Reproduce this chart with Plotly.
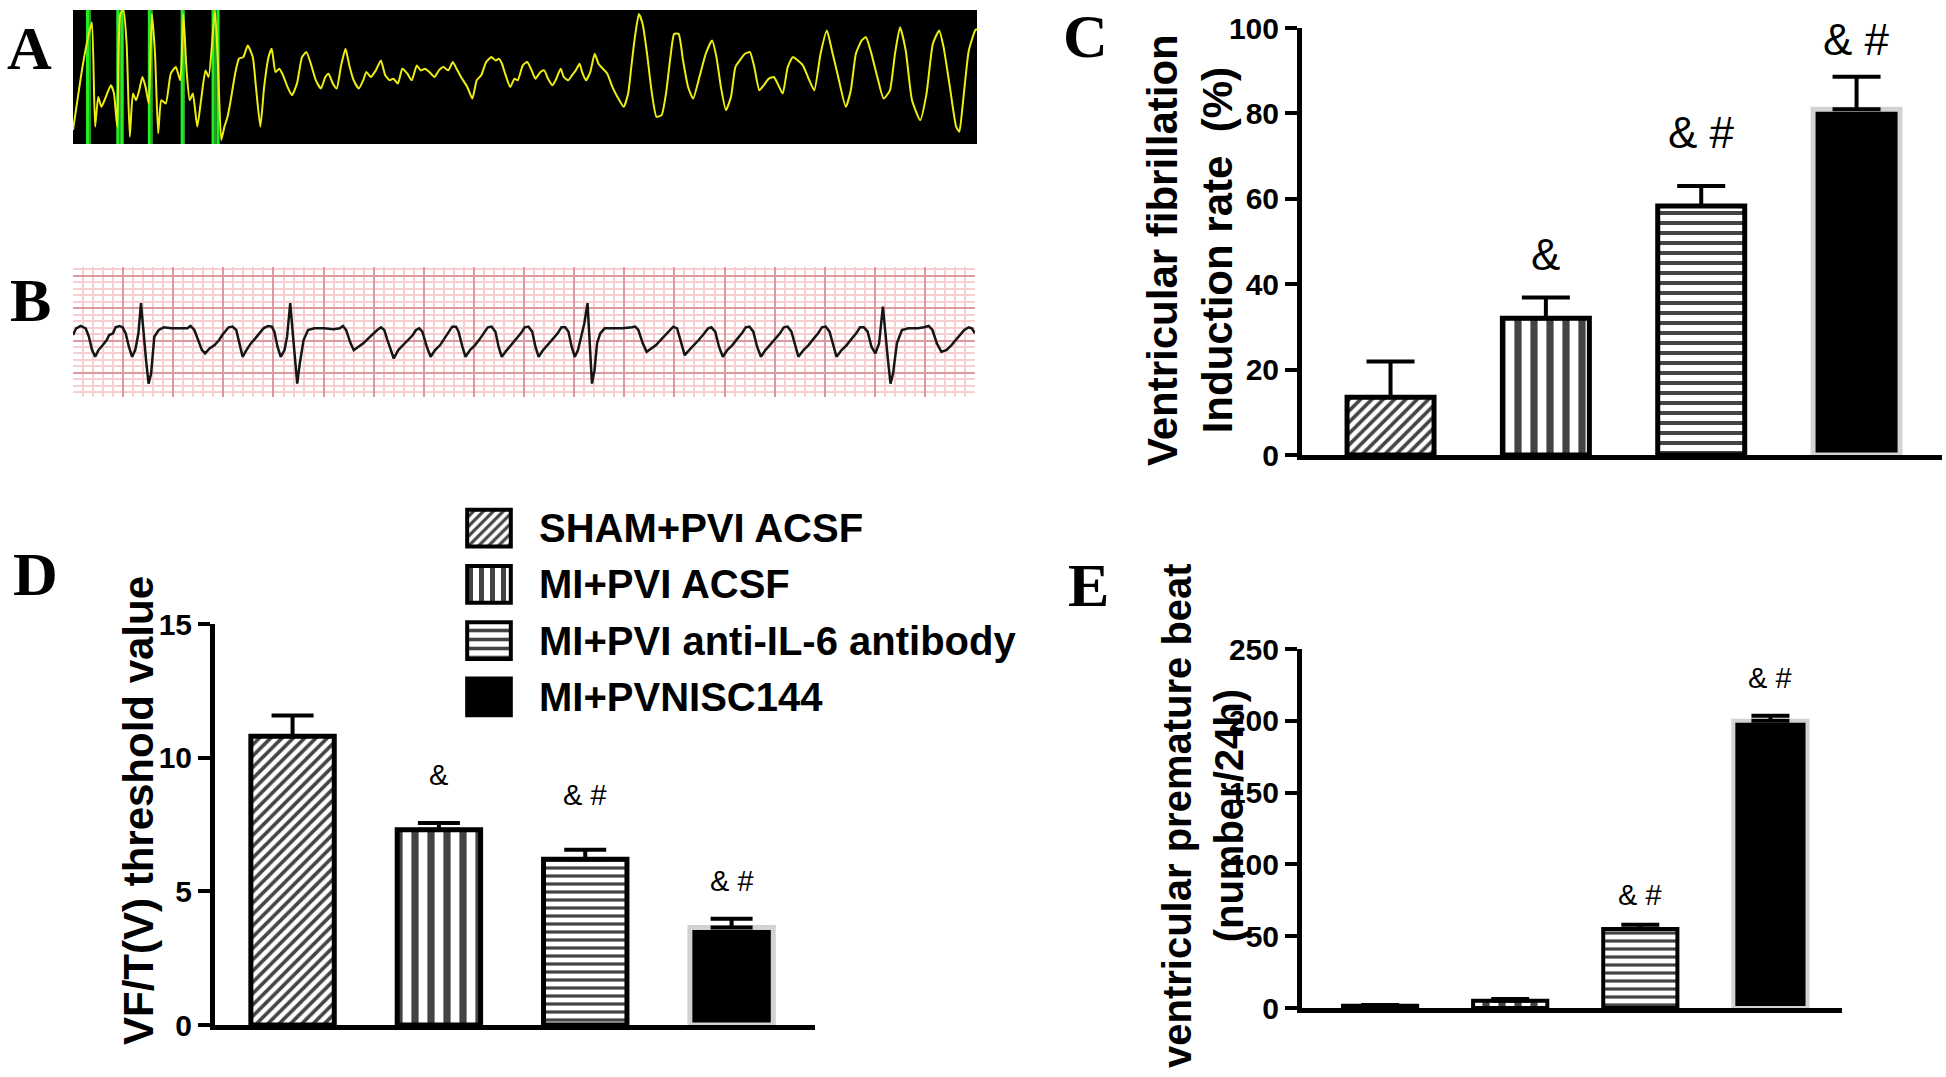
import plotly.graph_objects as go

W, H = 1946, 1077

# ---------------- data ----------------
groups = ["SHAM+PVI ACSF", "MI+PVI ACSF", "MI+PVI anti-IL-6 antibody", "MI+PVNISC144"]
group_patterns = ["/", "|", "-", ""]

# Panel C: ventricular fibrillation induction rate (%)
vf_rate_mean = [13.5, 32.0, 58.3, 81.0]
vf_rate_sem = [8.4, 4.9, 4.7, 7.6]
vf_rate_marks = ["", "&", "& #", "& #"]
vf_rate_mark_y = [None, 47.0, 75.5, 97.4]

# Panel D: VF/T (V) threshold value
vft_mean = [10.8, 7.3, 6.2, 3.65]
vft_sem = [0.78, 0.26, 0.36, 0.32]
vft_marks = ["", "&", "& #", "& #"]
vft_mark_y = [None, 9.36, 8.62, 5.4]

# Panel E: ventricular premature beat (number/24h)
vpb_mean = [1.5, 5.0, 55.0, 200.0]
vpb_sem = [0.6, 1.2, 3.0, 3.5]
vpb_marks = ["", "", "& #", "& #"]
vpb_mark_y = [None, None, 79.0, 230.0]

# Panel A: VF recording (sample index, screen level)
trace_a_t = [115,130,140,145,150,155,160,165,175,180,
             185,190,195,200,205,210,215,220,225,230,
             235,240,245,250,255,262,270,278,285,290,
             295,300,305,312,318,325,330,340,345,350,
             355,360,365,372,378,385,392,400,405,412,
             418,425,430,436,442,448,455,462,470,478,
             485,492,500,508,515,520,527,533,540,547,
             553,560,568,575,580,587,595,603,610,617,
             623,630,637,645,652,660,666,673,680,688,
             695,702,710,717,723,730,740,748,755,762,
             770,778,785,790,795,800,808,815,820,828,
             835,842,848,856,862,868,875,880,888,893,
             900,906,912,918,922,928,935,942,948,955,
             962,970,978,988,995,1000,1005,1012,1018,1025,
             1032,1040,1048,1055,1062,1068,1075,1082,1090,1098,
             1108,1118,1128,1135,1142,1150,1158,1165,1172,1180,
             1188,1195,1203,1210,1218,1226,1232,1240,1248,1256,
             1264,1272,1280,1290,1300,1310,1318,1328,1340,1348,
             1356,1365,1372,1380,1390,1400,1410,1418,1426,1435,
             1445,1458,1468,1478,1488,1495,1505,1515,1520,1525,
             1535,1545,1548]
trace_a_level = [390,200,100,65,380,290,320,300,255,280,
                 380,40,30,130,410,280,300,270,230,260,
                 310,40,160,400,300,310,220,200,240,40,
                 210,300,280,380,300,210,230,30,200,420,
                 380,350,300,220,175,170,135,170,260,380,
                 260,170,145,215,205,225,260,285,250,170,
                 155,190,240,265,230,220,250,265,195,145,
                 195,240,265,240,215,230,210,180,225,240,
                 235,250,205,220,240,195,210,205,215,230,
                 210,200,210,185,205,230,260,295,240,225,
                 185,170,180,175,190,220,260,235,240,195,
                 185,210,235,215,210,235,255,240,205,230,
                 240,225,210,190,215,240,215,160,190,205,
                 220,260,290,320,280,200,120,40,70,160,
                 270,350,345,280,170,100,100,180,260,295,
                 230,160,120,170,260,330,290,200,180,160,
                 155,200,270,255,235,230,250,280,200,170,
                 180,195,230,270,160,90,150,230,320,270,
                 160,120,110,155,230,295,270,160,80,150,
                 300,360,280,130,90,140,260,380,395,320,
                 150,90,85]
stim_marks_bright = [138, 186, 193, 236, 288, 337, 345]
stim_marks_dim = [142, 190, 240, 291, 341]

# Panel B: ECG strip (sample index, screen level)
trace_b_t = [115,120,127,135,140,145,150,155,162,168,
             172,178,182,188,193,198,203,208,213,218,
             222,226,230,234,238,243,250,258,270,285,
             295,300,306,312,318,323,330,338,345,350,
             355,360,366,372,377,382,388,395,402,408,
             415,422,428,432,437,442,448,452,457,461,
             465,468,472,478,485,495,510,525,535,540,
             545,552,557,565,572,580,588,594,600,605,
             610,615,620,627,635,642,650,655,660,665,
             672,678,685,693,700,706,712,718,722,728,
             733,740,748,755,762,768,774,780,785,790,
             798,805,812,820,826,832,838,843,848,855,
             862,870,878,884,890,895,900,905,910,915,
             920,925,928,932,936,940,945,952,965,980,
             995,1000,1005,1012,1018,1025,1033,1040,1048,1055,
             1060,1066,1072,1078,1085,1093,1100,1108,1115,1120,
             1126,1132,1138,1145,1153,1160,1168,1174,1180,1186,
             1192,1198,1205,1212,1220,1228,1234,1240,1246,1252,
             1257,1265,1273,1280,1288,1294,1300,1306,1312,1317,
             1325,1333,1340,1348,1354,1360,1366,1372,1378,1384,
             1390,1394,1398,1402,1406,1412,1420,1430,1445,1455,
             1462,1468,1475,1482,1490,1498,1505,1512,1518,1525,
             1530,1535]
trace_b_level = [255,235,228,235,260,300,320,300,285,270,
                 255,250,232,228,232,250,290,320,300,250,
                 160,250,330,400,370,260,240,232,235,235,
                 235,228,240,270,300,310,295,285,270,255,
                 245,232,230,240,280,320,300,280,265,250,
                 235,228,230,245,290,320,300,260,160,250,
                 330,400,340,270,240,235,235,238,235,228,
                 240,280,300,290,280,265,250,240,232,240,
                 270,300,325,300,285,270,255,240,235,245,
                 290,320,300,285,265,245,230,230,245,290,
                 320,300,285,268,250,232,230,245,290,320,
                 300,285,268,250,232,230,245,290,320,300,
                 285,268,250,232,232,245,290,320,300,260,
                 220,160,260,400,360,280,250,235,235,235,
                 232,230,240,280,305,295,285,270,255,240,
                 230,235,275,315,300,285,270,252,235,232,
                 245,290,320,300,285,268,250,232,230,245,
                 290,320,300,285,268,250,232,230,245,290,
                 320,300,285,268,250,232,230,245,290,320,
                 300,285,268,250,232,232,245,290,310,280,
                 170,260,330,400,370,280,240,235,235,232,
                 228,240,280,305,300,285,270,255,240,232,
                 235,250]

# ---------------- helpers ----------------
def fx(p):
    return p / W

def fy(p):
    return 1 - p / H

TICK_FONT = dict(family="Liberation Sans", size=30, color="black", weight="bold")
TITLE_FONT = dict(family="Liberation Sans", size=42, color="black", weight="bold")
LETTER_FONT = dict(family="Liberation Serif", size=62, color="black", weight="bold")

fig = go.Figure()
layout = dict(
    width=W, height=H, margin=dict(l=0, r=0, t=0, b=0, pad=0, autoexpand=False),
    paper_bgcolor="white", plot_bgcolor="white", showlegend=False,
    shapes=[], annotations=[],
)

def axname(k, letter):
    return f"{letter}axis" if k == 1 else f"{letter}axis{k}"

def axref(k, letter):
    return letter if k == 1 else f"{letter}{k}"

# ---------------- Panel A ----------------
a_xr = [115, 1548]
a_yr = [432, 28]
layout[axname(1, "x")] = dict(domain=[fx(73), fx(977)], range=a_xr, visible=False, fixedrange=True, anchor="y")
layout[axname(1, "y")] = dict(domain=[fy(144), fy(10)], range=a_yr, visible=False, fixedrange=True, anchor="x")
layout["shapes"].append(dict(type="rect", xref="x domain", yref="y domain", x0=0, x1=1, y0=0, y1=1,
                             fillcolor="black", line=dict(width=0), layer="below"))

def vlines(xs, yr):
    X, Y = [], []
    for g in xs:
        X += [g, g, None]
        Y += [yr[0], yr[1], None]
    return X, Y

gx, gy = vlines(stim_marks_dim, a_yr)
fig.add_trace(go.Scatter(x=gx, y=gy, mode="lines", line=dict(color="#2f9a2f", width=2),
                         xaxis="x", yaxis="y", hoverinfo="skip"))
gx, gy = vlines(stim_marks_bright, a_yr)
fig.add_trace(go.Scatter(x=gx, y=gy, mode="lines", line=dict(color="#22ee22", width=3),
                         xaxis="x", yaxis="y", hoverinfo="skip"))
fig.add_trace(go.Scatter(x=trace_a_t, y=trace_a_level, mode="lines",
                         line=dict(color="#eeee10", width=2, shape="spline", smoothing=0.5),
                         xaxis="x", yaxis="y", hoverinfo="skip", cliponaxis=True))

# ---------------- Panel B ----------------
b_xr = [115, 1535]
b_yr = [440, 52]
layout[axname(2, "x")] = dict(domain=[fx(73), fx(975)], range=b_xr, fixedrange=True, anchor="y2",
                              showticklabels=False, ticks="", zeroline=False, showline=False,
                              showgrid=True, gridcolor="#dc9a9e", gridwidth=2, tick0=115, dtick=78.9,
                              minor=dict(tick0=115, dtick=15.78, showgrid=True, gridcolor="#f7cfd1", gridwidth=1.5, ticks=""))
layout[axname(2, "y")] = dict(domain=[fy(397), fy(267)], range=b_yr, fixedrange=True, anchor="x2",
                              showticklabels=False, ticks="", zeroline=False, showline=False,
                              showgrid=True, gridcolor="#dc9a9e", gridwidth=2, tick0=78, dtick=96.7,
                              minor=dict(tick0=78, dtick=19.34, showgrid=True, gridcolor="#f7cfd1", gridwidth=1.5, ticks=""))
fig.add_trace(go.Scatter(x=trace_b_t, y=trace_b_level, mode="lines",
                         line=dict(color="#151515", width=2.5), xaxis="x2", yaxis="y2", hoverinfo="skip"))

# ---------------- bar panels ----------------
fills = ["white", "white", "white", "black"]
outlines = ["black", "black", "black", "#d2d2d2"]

def bar_panel(k, means, sems, marks, mark_y, xdom, ydom, yrange, dtick, xrange, barw,
              line_w, err_w, pat_sizes, pat_solid, mark_size):
    xs = list(range(len(means)))
    fig.add_trace(go.Bar(
        x=xs, y=means, width=barw,
        marker=dict(color=fills, line=dict(color=outlines, width=line_w),
                    pattern=dict(shape=group_patterns, fgcolor="black", fgopacity=1, size=pat_sizes,
                                 solidity=pat_solid)),
        error_y=dict(type="data", array=sems, arrayminus=[0] * len(sems), symmetric=False,
                     color="black", thickness=4, width=err_w),
        xaxis=axref(k, "x"), yaxis=axref(k, "y"), hoverinfo="skip"))
    layout[axname(k, "x")] = dict(domain=[fx(xdom[0]), fx(xdom[1])], range=xrange, anchor=axref(k, "y"),
                                  showline=True, linewidth=5, linecolor="black", showticklabels=False,
                                  ticks="", showgrid=False, zeroline=False, fixedrange=True)
    layout[axname(k, "y")] = dict(domain=[fy(ydom[1]), fy(ydom[0])], range=yrange, anchor=axref(k, "x"),
                                  tick0=0, dtick=dtick, showline=True, linewidth=5, linecolor="black",
                                  ticks="outside", ticklen=12, tickwidth=4, tickcolor="black",
                                  tickfont=TICK_FONT, showgrid=False, zeroline=False, fixedrange=True)
    for i, (m, yv) in enumerate(zip(marks, mark_y)):
        if m and yv is not None:
            layout["annotations"].append(dict(
                x=i, y=yv, xref=axref(k, "x"), yref=axref(k, "y"), text=m, showarrow=False,
                xanchor="center", yanchor="middle",
                font=dict(family="Liberation Sans", size=mark_size, color="black")))

bar_panel(3, vf_rate_mean, vf_rate_sem, vf_rate_marks, vf_rate_mark_y,
          xdom=(1302, 1942), ydom=(28, 455), yrange=[0, 100], dtick=20, xrange=[-0.57, 3.55],
          barw=0.56, line_w=5, err_w=24, pat_sizes=[8, 16, 10, 10],
          pat_solid=[0.45, 0.45, 0.4, 0.3], mark_size=44)
bar_panel(4, vft_mean, vft_sem, vft_marks, vft_mark_y,
          xdom=(215, 815), ydom=(624, 1025), yrange=[0, 15], dtick=5, xrange=[-0.53, 3.57],
          barw=0.57, line_w=5, err_w=21, pat_sizes=[8, 16, 8, 10],
          pat_solid=[0.45, 0.45, 0.4, 0.3], mark_size=29)
bar_panel(5, vpb_mean, vpb_sem, vpb_marks, vpb_mark_y,
          xdom=(1302, 1842), ydom=(649, 1008), yrange=[0, 250], dtick=50, xrange=[-0.6, 3.55],
          barw=0.57, line_w=4, err_w=19, pat_sizes=[8, 16, 8, 10],
          pat_solid=[0.45, 0.45, 0.4, 0.3], mark_size=29)

# ---------------- legend (swatches as a tiny bar subplot) ----------------
rows = list(range(len(groups)))
fig.add_trace(go.Bar(
    y=rows, x=[1 for _ in groups], orientation="h", width=0.655,
    marker=dict(color=fills, line=dict(color="black", width=4),
                pattern=dict(shape=group_patterns, fgcolor="black", fgopacity=1, size=[7, 11, 9, 10],
                             solidity=[0.45, 0.45, 0.4, 0.3])),
    xaxis="x6", yaxis="y6", hoverinfo="skip"))
layout["xaxis6"] = dict(domain=[fx(465), fx(513)], range=[-0.05, 1.05], visible=False, fixedrange=True, anchor="y6")
layout["yaxis6"] = dict(domain=[fy(725), fy(500)], range=[3.5, -0.5], visible=False, fixedrange=True, anchor="x6")
for i, g in enumerate(groups):
    layout["annotations"].append(dict(
        x=fx(537), y=i, xref="paper", yref="y6", text=g, showarrow=False,
        xanchor="left", yanchor="middle",
        font=dict(family="Liberation Sans", size=40, color="black", weight="bold")))

# ---------------- axis titles ----------------
def paper_text(text, x, y, font, angle=0, align="center"):
    layout["annotations"].append(dict(
        x=fx(x), y=fy(y), xref="paper", yref="paper", text=text, showarrow=False,
        xanchor="center", yanchor="middle", textangle=angle, align=align, font=font))

paper_text("Ventricular fibrillation<br>Induction rate\u00a0 (%)", 1190, 250, TITLE_FONT, angle=-90)
paper_text("VF/T(V) threshold value", 138, 811, TITLE_FONT, angle=-90)
paper_text("ventricular premature beat<br>(number/24h)", 1203, 816,
           dict(TITLE_FONT, size=40), angle=-90)

# ---------------- panel letters ----------------
for letter, (lx, ly) in zip("ABCDE", [(29, 48), (30, 300), (1085, 36), (35, 574), (1088, 585)]):
    paper_text(letter, lx, ly, LETTER_FONT)

fig.update_layout(**layout)
fig.write_html("out.html", config={"displayModeBar": False},
               post_script="document.body.style.margin='0';")
